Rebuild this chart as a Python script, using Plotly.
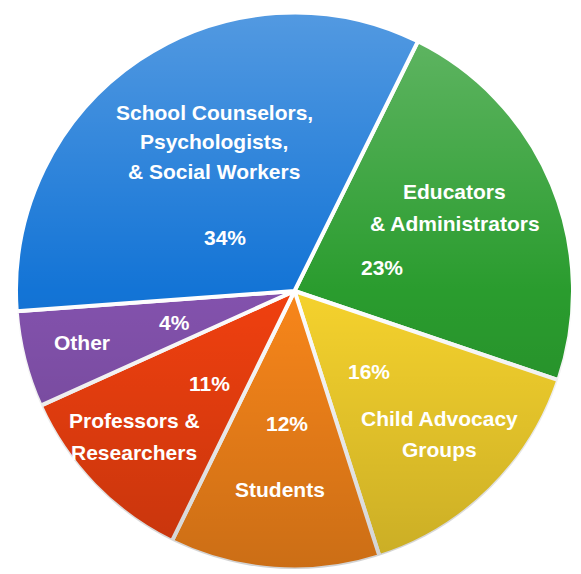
import base64
import plotly.graph_objects as go

# ---- data ----
categories = ["Educators<br>& Administrators", "Child Advocacy<br>Groups", "Students",
              "Professors &<br>Researchers", "Other",
              "School Counselors,<br>Psychologists,<br>& Social Workers"]
slice_values = [22.9, 14.9, 12.2, 11.0, 5.6, 33.5]     # slice sizes as drawn
pct_labels = ["23%", "16%", "12%", "11%", "4%", "34%"]  # printed percentages

# ---- style ----
colors = ["#2A9C2E", "#F5D22D", "#F8861A", "#F0400F", "#8352AD", "#1374D6"]
OFF = 8  # page body margin
W, H = 581 - OFF, 574 - OFF
ML, MT = 16 - OFF, 11 - OFF
PW, PH = 557, 560
MR, MB = W - ML - PW, H - MT - PH
# pixel positions in the page (centre of first label line, line step), percent centres
label_pos = [(455, 192, 31), (439, 418, 31), (280, 489, 31), (134, 420, 32), (82, 342, 31), (214, 112, 29.5)]
pct_pos = [(382, 267), (369, 371), (287, 423), (209, 383), (174, 322), (225, 237)]

def px(x):
    return (x - OFF - ML) / PW

def py(y):
    return 1 - (y - OFF - MT) / PH

fig = go.Figure(go.Pie(
    labels=categories, values=slice_values, sort=False, direction="clockwise", rotation=26.3,
    marker=dict(colors=colors, line=dict(color="white", width=4)),
    textinfo="none", hoverinfo="label", showlegend=False,
))

font = dict(family="Liberation Sans, Arial, sans-serif", size=21, color="white", weight="bold")
annotations = []
for cat, (lx, ly, step), pct, (qx, qy) in zip(categories, label_pos, pct_labels, pct_pos):
    for i, line in enumerate(cat.split("<br>")):
        annotations.append(dict(text=line, x=px(lx), y=py(ly + i * step), xref="paper", yref="paper",
                                showarrow=False, font=font, xanchor="center", yanchor="middle"))
    annotations.append(dict(text=pct, x=px(qx), y=py(qy), xref="paper", yref="paper",
                            showarrow=False, font=font, xanchor="center", yanchor="middle"))

r = min(PW, PH) / 2
svg = f'''<svg xmlns="http://www.w3.org/2000/svg" width="{PW}" height="{PH}" viewBox="0 0 {PW} {PH}" preserveAspectRatio="none">
<defs><linearGradient id="g" x1="0" y1="0" x2="0" y2="1">
<stop offset="0" stop-color="white" stop-opacity="0.27"/>
<stop offset="0.5" stop-color="white" stop-opacity="0"/>
<stop offset="0.5" stop-color="black" stop-opacity="0"/>
<stop offset="1" stop-color="black" stop-opacity="0.18"/>
</linearGradient></defs>
<ellipse cx="{PW/2}" cy="{PH/2}" rx="{r-0.5}" ry="{r-0.5}" fill="url(#g)"/>
</svg>'''
src = "data:image/svg+xml;base64," + base64.b64encode(svg.encode()).decode()

fig.update_layout(
    width=W, height=H, margin=dict(l=ML, r=MR, t=MT, b=MB),
    paper_bgcolor="white", plot_bgcolor="white",
    annotations=annotations,
    images=[dict(source=src, xref="paper", yref="paper", x=0, y=1, sizex=1, sizey=1,
                 xanchor="left", yanchor="top", sizing="stretch", layer="above")],
)
fig.write_html("out.html")
